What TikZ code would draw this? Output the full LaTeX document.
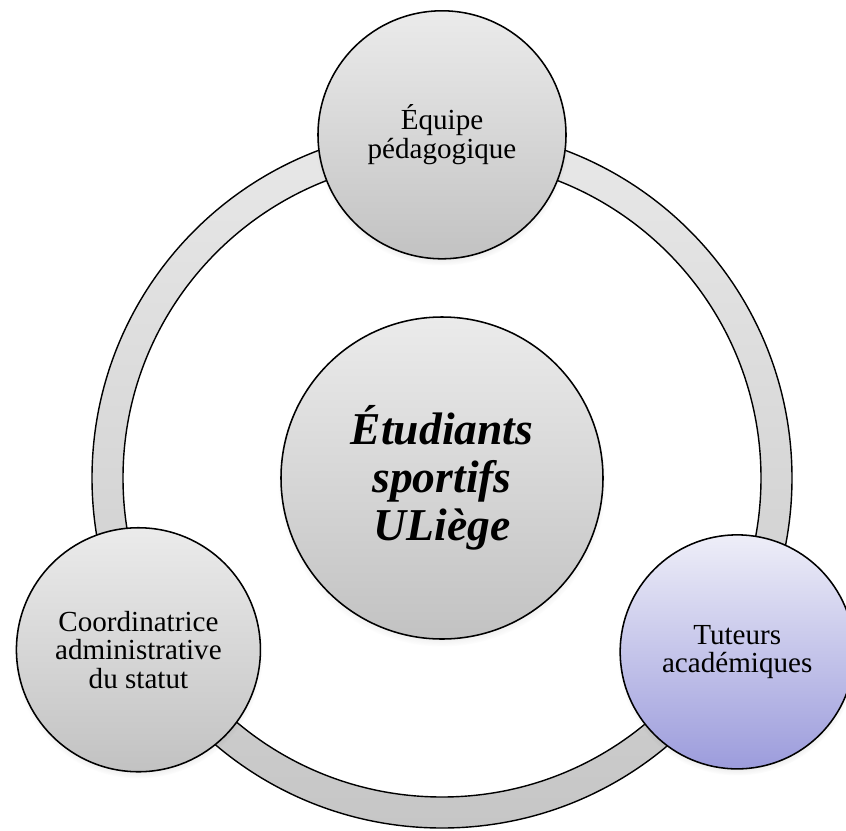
\documentclass[tikz,border=0pt]{standalone}
\usepackage{fontspec}
\setmainfont{Liberation Serif}
\usepackage{tikz}
\usetikzlibrary{shadows,calc,positioning}

\definecolor{greytop}{HTML}{EBEBEB}
\definecolor{greybot}{HTML}{C2C2C2}
\definecolor{ringtop}{HTML}{E8E8E8}
\definecolor{ringbot}{HTML}{C6C6C6}
\definecolor{lavtop}{HTML}{EEEEF8}
\definecolor{lavbot}{HTML}{9C9CDC}

\begin{document}
\begin{tikzpicture}[
    % 外圈节点样式
    role style/.style={
        circle,              % 圆形节点
        draw,                % 绘制边框
        line width=1.1pt,    % 边框线宽
        top color=greytop,   % 上方浅灰
        bottom color=greybot,% 下方深灰
        align=center,        % 文字居中
        inner sep=0pt,       % 内部填充为0
        circular drop shadow={shadow xshift=0pt, shadow yshift=-3pt,
            shadow scale=1.02, opacity=0.35},
        font=\fontsize{20.7}{20.3}\selectfont
    },
    % 中心节点样式
    core style/.style={
        role style,
        minimum size=8.05cm,
        font=\fontsize{32.4}{34}\selectfont\bfseries\itshape
    },
    % 圆环样式
    ring style/.style={
        draw,
        line width=1pt,
        top color=ringtop,
        bottom color=ringbot,
        even odd rule
    }
]

% 画布大小
\useasboundingbox (0,0) rectangle (21.15,-20.775);

% 中心节点
\node[core style] (etu) at (11.05,-11.95) {Étudiants\\sportifs\\ULiège};

% 圆环
\path[ring style] (etu.center) circle[radius=8.75cm]
                  (etu.center) circle[radius=7.975cm];

% 外圈三个节点
\node[role style, minimum size=6.2cm] (equipe)
    at ([shift={(90:8.58cm)}]etu.center) {Équipe\\pédagogique};
\node[role style, minimum size=6.1cm] (coord)
    at ([shift={(209.5:8.72cm)}]etu.center) {Coordinatrice\\administrative\\du statut};
\node[role style, minimum size=5.85cm, top color=lavtop, bottom color=lavbot] (tuteurs)
    at ([shift={(-30.5:8.565cm)}]etu.center) {Tuteurs\\académiques};

\end{tikzpicture}
\end{document}
